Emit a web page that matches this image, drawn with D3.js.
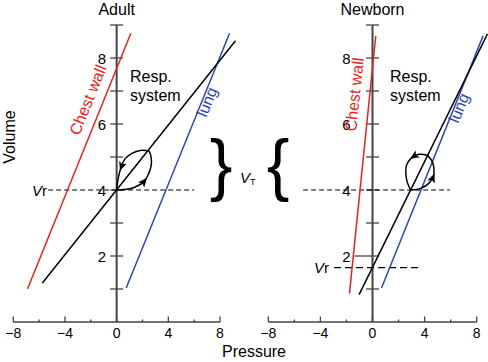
<!DOCTYPE html>
<html>
<head>
<meta charset="utf-8">
<script src="https://cdn.jsdelivr.net/npm/d3@7"></script>
<style>
  body { margin: 0; background: #fff; }
  text { font-family: "Liberation Sans", Arial, sans-serif; }
</style>
</head>
<body>
<div id="chart"></div>
<script>
// ---- data ----
var pressureTicks = [-8, -6, -4, -2, 0, 2, 4, 6, 8];
var pressureLabels = [-8, -4, 0, 4, 8];
var volumeTicks = [1, 2, 3, 4, 5, 6, 7, 8, 9];
var volumeLabels = [2, 4, 6, 8];

// adult curves [pressure, volume]
var adultChestWall = [[-6.9, 1.0], [1.1, 8.75]];
var adultResp = [[-5.75, 1.18], [9.2, 8.52]];
var adultLung = [[0.74, 1.03], [8.74, 8.75]];
var adultVr = 4;
var adultVT = 5.2;
var adultExp = [[2.52, 5.18], [1.82, 5.2], [1.18, 5.11], [0.66, 4.95], [0.35, 4.69], [0.14, 4.39], [0, 4]];
var adultInsp = [[0, 4], [0.4, 4.01], [1.3, 4.07], [2.08, 4.24], [2.47, 4.49], [2.67, 4.74], [2.67, 4.99], [2.52, 5.18]];

// newborn curves
var newbornChestWall = [[-1.77, 0.86], [0.25, 8.67]];
var newbornResp = [[-1.03, 0.83], [8.83, 8.73]];
var newbornLung = [[0.69, 1.03], [8.49, 8.67]];
var newbornVr = 1.65;
var newbornExp = [[4.22, 5.05], [3.56, 5.08], [2.94, 4.95], [2.6, 4.74], [2.56, 4.5], [2.67, 4.23], [2.94, 3.99]];
var newbornInsp = [[2.94, 4.0], [3.71, 4.05], [4.32, 4.2], [4.67, 4.41], [4.71, 4.68], [4.55, 4.89], [4.22, 5.05]];

var red = "#e8231e", blue = "#2d46b3", axisCol = "#444";

var svg = d3.select("#chart").append("svg")
	.attr("width", 488)
	.attr("height", 362);

var y = d3.scaleLinear().domain([0, 9]).range([322, 25]);

var line = d3.line().x(d => d[0]).y(d => d[1]);

function drawArrow(g, pathNode, frac) {
	var len = pathNode.getTotalLength();
	var p1 = pathNode.getPointAtLength(len * frac);
	var p0 = pathNode.getPointAtLength(len * frac - 2);
	var a = Math.atan2(p1.y - p0.y, p1.x - p0.x) * 180 / Math.PI;
	g.append("path")
		.attr("d", "M3,0 L-6,-4 L-4,0 L-6,4 Z")
		.attr("fill", "#000")
		.attr("transform", "translate(" + p1.x + "," + p1.y + ") rotate(" + a + ")");
}

function drawPanel(cfg) {
	var x = d3.scaleLinear().domain([-8, 8]).range(cfg.xRange);
	var g = svg.append("g");
	var x0 = x(0);

	// x axis
	g.append("line")
		.attr("x1", x(-8)).attr("x2", x(8))
		.attr("y1", y(0)).attr("y2", y(0))
		.attr("stroke", axisCol).attr("stroke-width", 1.5);
	g.selectAll(".xt").data(pressureTicks).enter().append("line")
		.attr("x1", d => x(d)).attr("x2", d => x(d))
		.attr("y1", y(0))
		.attr("y2", d => y(0) - (d % 4 == 0 ? 5.5 : 2.5))
		.attr("stroke", axisCol).attr("stroke-width", 1.3);
	g.selectAll(".xl").data(pressureLabels).enter().append("text")
		.attr("x", d => x(d)).attr("y", 338)
		.attr("text-anchor", "middle")
		.attr("font-size", 14)
		.text(d => d < 0 ? "\u2212" + Math.abs(d) : d);

	// y axis
	g.append("line")
		.attr("x1", x0).attr("x2", x0)
		.attr("y1", y(0)).attr("y2", y(9))
		.attr("stroke", axisCol).attr("stroke-width", 2);
	g.selectAll(".yt").data(volumeTicks).enter().append("line")
		.attr("x1", d => x0 - (cfg.longTick == d ? 18 : 6.5))
		.attr("x2", x0 + 6.5)
		.attr("y1", d => y(d)).attr("y2", d => y(d))
		.attr("stroke", axisCol).attr("stroke-width", 1.3);
	g.selectAll(".yl").data(volumeLabels).enter().append("text")
		.attr("x", x0 - cfg.labelOff)
		.attr("y", d => y(d) + 5.5)
		.attr("text-anchor", "end")
		.attr("font-size", 15)
		.text(d => d);

	// title
	g.append("text")
		.attr("x", x0).attr("y", 15)
		.attr("text-anchor", "middle")
		.attr("font-size", 16)
		.text(cfg.title);

	// dashed lines
	cfg.dashes.forEach(function(dl) {
		g.append("line")
			.attr("x1", x(dl[0])).attr("x2", x(dl[1]))
			.attr("y1", y(dl[2])).attr("y2", y(dl[2]))
			.attr("stroke", "#000").attr("stroke-width", 1.2)
			.attr("stroke-dasharray", dl[3]);
	});

	// curves
	var curves = [[cfg.chest, red], [cfg.lung, blue], [cfg.resp, "#000"]];
	curves.forEach(function(c) {
		g.append("path")
			.attr("d", line(c[0].map(d => [x(d[0]), y(d[1])])))
			.attr("stroke", c[1]).attr("stroke-width", 1.5).attr("fill", "none");
	});

	// breathing loop
	var smooth = d3.line().x(d => x(d[0])).y(d => y(d[1])).curve(d3.curveCatmullRom);
	var exp = g.append("path").attr("d", smooth(cfg.exp))
		.attr("stroke", "#000").attr("stroke-width", 1.5).attr("fill", "none");
	var insp = g.append("path").attr("d", smooth(cfg.insp))
		.attr("stroke", "#000").attr("stroke-width", 1.5).attr("fill", "none");
	drawArrow(g, exp.node(), cfg.expArrow);
	drawArrow(g, insp.node(), cfg.inspArrow);

	// Vr label
	var vr = g.append("text")
		.attr("x", cfg.vrX).attr("y", y(cfg.vr) + 5.5)
		.attr("text-anchor", "end")
		.attr("font-size", 15);
	vr.append("tspan").attr("font-style", "italic").text("V");
	vr.append("tspan").text("r");

	// curve labels
	g.append("text")
		.attr("transform", "translate(" + cfg.chestPos[0] + "," + cfg.chestPos[1] + ") rotate(" + cfg.chestPos[2] + ")")
		.attr("text-anchor", "middle").attr("font-size", 16).attr("fill", red)
		.text("Chest wall");
	g.append("text")
		.attr("transform", "translate(" + cfg.lungPos[0] + "," + cfg.lungPos[1] + ") rotate(" + cfg.lungPos[2] + ")")
		.attr("text-anchor", "middle").attr("font-size", 16).attr("fill", blue)
		.text("lung");
	var rs = g.append("text").attr("font-size", 16);
	rs.append("tspan").attr("x", cfg.respX).attr("y", 82).text("Resp.");
	rs.append("tspan").attr("x", cfg.respX).attr("y", 101).text("system");
}

drawPanel({
	title: "Adult",
	xRange: [13.3, 220],
	chest: adultChestWall, resp: adultResp, lung: adultLung,
	exp: adultExp, insp: adultInsp, expArrow: 0.62, inspArrow: 0.5,
	vr: adultVr, vrX: 47,
	dashes: [[-5.3, 6.0, adultVr, "5,3"]],
	labelOff: 10.5, longTick: null,
	chestPos: [93, 102, -68], lungPos: [212, 104, -68], respX: 130
});

drawPanel({
	title: "Newborn",
	xRange: [268.3, 476.7],
	chest: newbornChestWall, resp: newbornResp, lung: newbornLung,
	exp: newbornExp, insp: newbornInsp, expArrow: 0.3, inspArrow: 0.55,
	vr: newbornVr, vrX: 329,
	dashes: [[-5.33, 5.94, 4, "5,3"], [-2.95, 3.56, newbornVr, "7,4"]],
	labelOff: 22, longTick: 2,
	chestPos: [360, 95, -84], lungPos: [464, 110, -68], respX: 390
});

// shared labels
svg.append("text")
	.attr("transform", "translate(15,137) rotate(-90)")
	.attr("text-anchor", "middle").attr("font-size", 16)
	.text("Volume");
svg.append("text")
	.attr("x", 254).attr("y", 357)
	.attr("text-anchor", "middle").attr("font-size", 16)
	.text("Pressure");

// tidal volume braces
var braceMid = (y(adultVr) + y(adultVT)) / 2;
svg.append("text")
	.attr("x", 221).attr("y", braceMid + 18)
	.attr("text-anchor", "middle")
	.attr("font-family", "Liberation Serif, serif")
	.attr("font-size", 68)
	.text("}");
svg.append("text")
	.attr("x", 278).attr("y", braceMid + 18)
	.attr("text-anchor", "middle")
	.attr("font-family", "Liberation Serif, serif")
	.attr("font-size", 68)
	.text("{");
var vt = svg.append("text")
	.attr("x", 240).attr("y", braceMid + 13)
	.attr("font-size", 15);
vt.append("tspan").attr("font-style", "italic").text("V");
vt.append("tspan").attr("font-size", 9).attr("dy", 2).text("T");
</script>
</body>
</html>
